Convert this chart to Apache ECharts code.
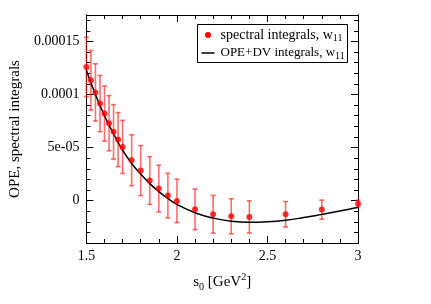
<!DOCTYPE html>
<html>
<head>
<meta charset="utf-8">
<script src="https://cdn.jsdelivr.net/npm/echarts@6/dist/echarts.min.js"></script>
<style>html,body{margin:0;padding:0;background:#fff}#c{width:431px;height:304px}</style>
</head>
<body>
<div id="c"></div>
<script>
// s0 values of the spectral integrals
const sPoints = [1.5, 1.525, 1.55, 1.575, 1.6, 1.625, 1.65, 1.675, 1.7, 1.75, 1.8, 1.85, 1.9, 1.95, 2.0, 2.1, 2.2, 2.3, 2.4, 2.6, 2.8, 3.0];
const spectral = [12.6e-5, 11.35e-5, 10.2e-5, 9.15e-5, 8.2e-5, 7.3e-5, 6.48e-5, 5.75e-5, 5.06e-5, 3.8e-5, 2.83e-5, 1.89e-5, 1.13e-5, 0.47e-5, -0.03e-5, -0.82e-5, -1.29e-5, -1.48e-5, -1.54e-5, -1.29e-5, -0.85e-5, -0.31e-5];
const spectralErr = [2.8e-5, 2.8e-5, 2.7e-5, 2.65e-5, 2.6e-5, 2.6e-5, 2.57e-5, 2.55e-5, 2.5e-5, 2.4e-5, 2.35e-5, 2.25e-5, 2.2e-5, 2.1e-5, 2.05e-5, 1.92e-5, 1.78e-5, 1.65e-5, 1.52e-5, 1.2e-5, 0.9e-5, 0.35e-5];
// OPE+DV curve
const sCurve = [1.5, 1.55, 1.6, 1.65, 1.7, 1.75, 1.8, 1.85, 1.9, 1.95, 2.0, 2.1, 2.2, 2.3, 2.4, 2.5, 2.6, 2.7, 2.8, 2.9, 3.0];
const opeDV = [12.3e-5, 10.0e-5, 8.0e-5, 6.3e-5, 4.75e-5, 3.5e-5, 2.5e-5, 1.6e-5, 0.85e-5, 0.2e-5, -0.35e-5, -1.15e-5, -1.65e-5, -1.95e-5, -2.05e-5, -2.0e-5, -1.85e-5, -1.6e-5, -1.3e-5, -0.98e-5, -0.62e-5];
// tick labels
const xTicks = [1.5, 2, 2.5, 3];
const yTicks = [0, 5e-5, 1e-4, 1.5e-4];
const yTickLabels = ['0', '5e-05', '0.0001', '0.00015'];
// legend texts
const legendNames = ['spectral integrals, w', 'OPE+DV integrals, w'];
const legendSub = '11';

const FONT = "'Liberation Serif','Times New Roman',serif";
const X_MIN = 1.5, X_MAX = 3, Y_MIN = -4e-5, Y_MAX = 1.75e-4;
const lineStyle = {color: '#000', width: 1};

function xAxis(pos, major, labels) {
  const a = {
    type: 'value', position: pos, min: X_MIN, max: X_MAX,
    axisLine: {show: true, onZero: false, lineStyle},
    splitLine: {show: false},
    axisTick: {show: true, inside: true, length: major ? 7 : 4, lineStyle},
    axisLabel: {show: false}
  };
  if (major) {
    a.interval = 0.5;
    a.axisTick.customValues = xTicks;
    if (labels) {
      a.axisLabel = {show: true, customValues: xTicks, fontFamily: FONT, fontSize: 14, color: '#000', margin: 6,
        formatter: v => String(Math.round(v * 10) / 10)};
      a.name = '{m|s}{sub|0}{m| [GeV}{sup|2}{m|]}';
      a.nameLocation = 'middle';
      a.nameGap = 29;
      a.nameTextStyle = {rich: {
        m: {fontFamily: FONT, fontSize: 15, color: '#000', lineHeight: 20},
        sub: {fontFamily: FONT, fontSize: 10, color: '#000', lineHeight: 10, verticalAlign: 'bottom'},
        sup: {fontFamily: FONT, fontSize: 10, color: '#000', lineHeight: 10, verticalAlign: 'top'}
      }};
    }
  } else {
    a.interval = 0.1;
  }
  return a;
}
function yAxis(pos, major, labels) {
  const a = {
    type: 'value', position: pos, min: Y_MIN, max: Y_MAX,
    axisLine: {show: true, onZero: false, lineStyle},
    splitLine: {show: false},
    axisTick: {show: true, inside: true, length: major ? 7 : 4, lineStyle},
    axisLabel: {show: false}
  };
  if (major) {
    a.axisTick.customValues = yTicks;
    if (labels) {
      a.axisLabel = {show: true, customValues: yTicks, fontFamily: FONT, fontSize: 14, color: '#000', margin: 7,
        formatter: v => {
          let best = 0;
          yTicks.forEach((t, i) => { if (Math.abs(t - v) < Math.abs(yTicks[best] - v)) best = i; });
          return yTickLabels[best];
        }};
      a.name = 'OPE, spectral integrals';
      a.nameLocation = 'middle';
      a.nameGap = 62;
      a.nameTextStyle = {fontFamily: FONT, fontSize: 15, color: '#000'};
    }
  } else {
    a.interval = 1e-5;
  }
  return a;
}

const errData = sPoints.map((s, i) => [s, spectral[i] - spectralErr[i], spectral[i] + spectralErr[i]]);
const ptData = sPoints.map((s, i) => [s, spectral[i]]);
const curveData = sCurve.map((s, i) => [s, opeDV[i]]);

const richLegend = (size) => ({
  m: {fontFamily: FONT, fontSize: size, fill: '#000', lineHeight: 16},
  sub: {fontFamily: FONT, fontSize: 10, fill: '#000', lineHeight: 8, verticalAlign: 'bottom'}
});

const chart = echarts.init(document.getElementById('c'), null, {renderer: 'canvas'});
chart.setOption({
  animation: false,
  backgroundColor: '#fff',
  grid: {left: 76, right: 73, top: 15, bottom: 61},
  xAxis: [xAxis('bottom', false), xAxis('bottom', true, true), xAxis('top', false), xAxis('top', true)],
  yAxis: [yAxis('left', false), yAxis('left', true, true), yAxis('right', false), yAxis('right', true)],
  graphic: [{
    type: 'group', left: 197, top: 24, z: 100,
    children: [
      {type: 'rect', shape: {x: 0, y: 0, width: 150, height: 38}, style: {fill: '#fff', stroke: '#000', lineWidth: 1}},
      {type: 'circle', shape: {cx: 10.5, cy: 10.5, r: 3}, style: {fill: '#ff0000'}},
      {type: 'line', shape: {x1: 4, y1: 28.5, x2: 17, y2: 28.5}, style: {stroke: '#000', lineWidth: 1.5}},
      {type: 'text', x: 23, y: 10.5, style: {text: '{m|' + legendNames[0] + '}{sub|' + legendSub + '}', rich: richLegend(14), verticalAlign: 'middle', align: 'left'}},
      {type: 'text', x: 23, y: 28.5, style: {text: '{m|' + legendNames[1] + '}{sub|' + legendSub + '}', rich: richLegend(13), verticalAlign: 'middle', align: 'left'}}
    ]
  }],
  series: [
    {
      type: 'custom', name: 'err', xAxisIndex: 0, yAxisIndex: 0, clip: false, z: 2,
      encode: {x: 0, y: [1, 2]},
      data: errData,
      renderItem: (params, api) => {
        const x = api.value(0);
        const lo = api.coord([x, api.value(1)]);
        const hi = api.coord([x, api.value(2)]);
        const c = 2.5;
        const st = {stroke: 'rgba(255,30,30,0.65)', lineWidth: 1.6};
        return {type: 'group', children: [
          {type: 'line', shape: {x1: lo[0], y1: lo[1], x2: hi[0], y2: hi[1]}, style: st},
          {type: 'line', shape: {x1: lo[0] - c, y1: lo[1], x2: lo[0] + c, y2: lo[1]}, style: st},
          {type: 'line', shape: {x1: hi[0] - c, y1: hi[1], x2: hi[0] + c, y2: hi[1]}, style: st}
        ]};
      }
    },
    {
      type: 'line', name: 'OPE+DV integrals', xAxisIndex: 0, yAxisIndex: 0, data: curveData,
      smooth: true, symbol: 'none', showSymbol: false, z: 3,
      lineStyle: {color: '#000', width: 1.5}
    },
    {
      type: 'scatter', name: 'spectral integrals', xAxisIndex: 0, yAxisIndex: 0, data: ptData,
      symbol: 'circle', symbolSize: 6, clip: false, z: 4,
      itemStyle: {color: '#ff0000'}
    }
  ]
});
</script>
</body>
</html>
